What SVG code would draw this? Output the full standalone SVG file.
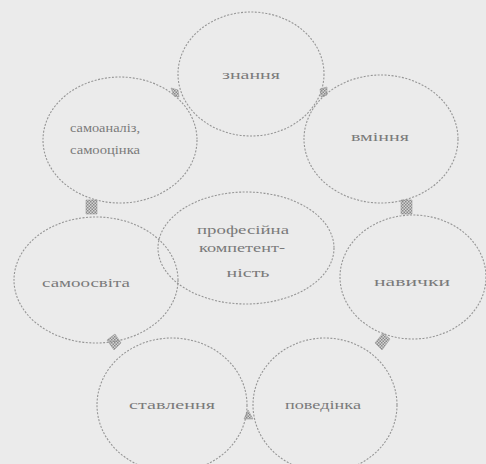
<svg xmlns="http://www.w3.org/2000/svg" width="486" height="464" viewBox="0 0 486 464">
  <defs>
    <pattern id="hatch" width="3" height="3" patternUnits="userSpaceOnUse">
      <rect width="3" height="3" fill="#d4d4d4"/>
      <rect width="1.5" height="1.5" fill="#8a8a8a"/>
      <rect x="1.5" y="1.5" width="1.5" height="1.5" fill="#8a8a8a"/>
    </pattern>
  </defs>
  <style>
    .node ellipse { fill: none; stroke: #959595; stroke-width: 1.1; stroke-dasharray: 2 1.5; }
    .node text { font-family: "Liberation Serif", "DejaVu Serif", serif; font-size: 13px; fill: #7a7a7a; text-anchor: middle; }
    .conn { fill: url(#hatch); stroke: #9a9a9a; stroke-width: 0.6; }
  </style>
  <rect width="486" height="464" fill="#ebebeb"/>

  <g id="connectors">
    <polygon class="conn" points="171,88 178,90 179,97 174,96"/>
    <polygon class="conn" points="320,89 327,87 327,95 321,97"/>
    <polygon class="conn" points="86,200 97,200 97,214 86,214"/>
    <polygon class="conn" points="401,200 412,200 412,214 401,214"/>
    <polygon class="conn" points="107,340 115,334 121,343 114,350"/>
    <polygon class="conn" points="375,343 383,333 390,339 382,350"/>
    <polygon class="conn" points="244,419 248,410 253,419"/>
  </g>

  <g id="n-znannia" class="node">
    <ellipse cx="251" cy="74" rx="73" ry="62"/>
    <text x="251" y="79" textLength="58" lengthAdjust="spacingAndGlyphs">знання</text>
  </g>
  <g id="n-vminnia" class="node">
    <ellipse cx="381" cy="139" rx="77" ry="64"/>
    <text x="380" y="141" textLength="58" lengthAdjust="spacingAndGlyphs">вміння</text>
  </g>
  <g id="n-samoanaliz" class="node">
    <ellipse cx="120" cy="140" rx="77" ry="63"/>
    <text x="105" y="132" textLength="70" lengthAdjust="spacingAndGlyphs">самоаналіз,</text>
    <text x="105" y="154" textLength="70" lengthAdjust="spacingAndGlyphs">самооцінка</text>
  </g>
  <g id="n-samoosvita" class="node">
    <ellipse cx="96" cy="280" rx="82" ry="63"/>
    <text x="86" y="287" textLength="88" lengthAdjust="spacingAndGlyphs">самоосвіта</text>
  </g>
  <g id="n-center" class="node">
    <ellipse cx="246" cy="248" rx="88" ry="56"/>
    <text x="243" y="234" textLength="92" lengthAdjust="spacingAndGlyphs">професійна</text>
    <text x="242" y="252" textLength="86" lengthAdjust="spacingAndGlyphs">компетент-</text>
    <text x="248" y="277" textLength="43" lengthAdjust="spacingAndGlyphs">ність</text>
  </g>
  <g id="n-navychky" class="node">
    <ellipse cx="413" cy="277" rx="73" ry="62"/>
    <text x="412" y="286" textLength="76" lengthAdjust="spacingAndGlyphs">навички</text>
  </g>
  <g id="n-stavlennia" class="node">
    <ellipse cx="172" cy="405" rx="75" ry="67"/>
    <text x="172" y="409" textLength="86" lengthAdjust="spacingAndGlyphs">ставлення</text>
  </g>
  <g id="n-povedinka" class="node">
    <ellipse cx="325" cy="405" rx="72" ry="67"/>
    <text x="323" y="409" textLength="76" lengthAdjust="spacingAndGlyphs">поведінка</text>
  </g>
</svg>
